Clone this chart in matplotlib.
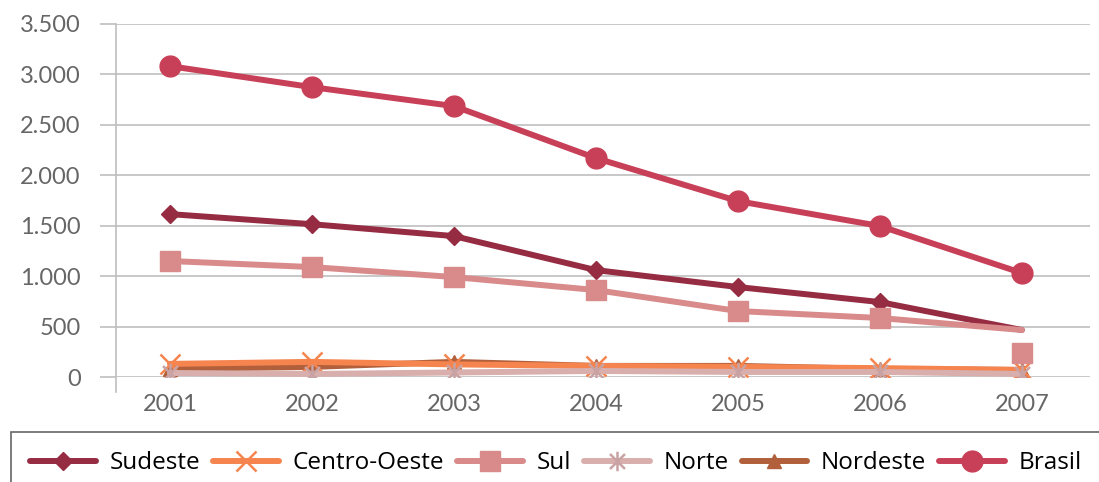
import matplotlib
matplotlib.use("Agg")
import matplotlib.pyplot as plt
from matplotlib.path import Path
from matplotlib.ticker import FuncFormatter

anos = ["2001", "2002", "2003", "2004", "2005", "2006", "2007"]

sudeste = [1615, 1515, 1397, 1060, 892, 743, 466]
centro_oeste = [130, 150, 125, 110, 100, 88, 70]
sul_linha = [1150, 1090, 991, 862, 654, 585, 466]
sul_2007 = 238  # marcador de 2007 fica solto, abaixo do fim da linha
norte = [40, 30, 45, 60, 50, 50, 30]
nordeste = [80, 100, 150, 110, 110, 80, 70]
brasil = [3082, 2874, 2686, 2170, 1744, 1497, 1031]

cores = {
    "Sudeste": "#952C42",
    "Centro-Oeste": "#F5844F",
    "Sul": "#D98A8A",
    "Norte": "#D8AFAC",
    "Nordeste": "#B1603B",
    "Brasil": "#C84058",
}

# marcador "estrela" do Excel: um x com uma barra vertical
estrela = Path(
    [(-1, -1), (1, 1), (-1, 1), (1, -1), (0, -1.3), (0, 1.3)],
    [Path.MOVETO, Path.LINETO, Path.MOVETO, Path.LINETO, Path.MOVETO, Path.LINETO],
)

fig = plt.figure(figsize=(10.99, 4.82), dpi=100)
ax = fig.add_axes([116 / 1099, 1 - 377 / 482, (1090 - 116) / 1099, (377 - 24) / 482])

x = list(range(len(anos)))
lw = 4.3
kw = dict(linewidth=lw, solid_capstyle="round", solid_joinstyle="round")

ax.plot(x, sudeste, color=cores["Sudeste"], marker="D", markersize=9,
        markevery=list(range(6)), label="Sudeste", zorder=5, **kw)
ax.plot(x, centro_oeste, color=cores["Centro-Oeste"], marker="x", markersize=14,
        markeredgewidth=1.8, label="Centro-Oeste", zorder=3, **kw)
ax.plot(x, sul_linha, color=cores["Sul"], marker="s", markersize=14,
        markevery=list(range(6)), label="Sul", zorder=5, **kw)
ax.plot(x[-1:], [sul_2007], color=cores["Sul"], marker="s", markersize=14,
        linestyle="none", zorder=3)
ax.plot(x, norte, color=cores["Norte"], marker=estrela, markersize=14,
        markeredgewidth=1.8, markeredgecolor="#C9A3A3", label="Norte", zorder=4, **kw)
ax.plot(x, nordeste, color=cores["Nordeste"], marker="^", markersize=10,
        label="Nordeste", zorder=2.5, **kw)
ax.plot(x, brasil, color=cores["Brasil"], marker="o", markersize=15,
        label="Brasil", zorder=6, **kw)

ax.set_xlim(-0.38, 6.48)
ax.set_ylim(0, 3500)
ax.set_yticks(range(0, 3501, 500))
ax.yaxis.set_major_formatter(FuncFormatter(lambda v, p: f"{int(v):,}".replace(",", ".")))
ax.set_xticks(x)
ax.set_xticklabels(anos)

ax.grid(axis="y", color="#BFBFBF", linewidth=1.2)
ax.set_axisbelow(True)
for s in ["top", "right", "bottom"]:
    ax.spines[s].set_visible(False)
ax.spines["left"].set_color("#BFBFBF")
ax.spines["left"].set_linewidth(1.2)
ax.spines["left"].set_bounds(-150, 3500)

ax.tick_params(axis="y", length=11.5, width=1.2, color="#BFBFBF", pad=14,
               labelsize=17, labelcolor="#666666")
ax.tick_params(axis="x", length=0, pad=12, labelsize=17, labelcolor="#666666")
for t in ax.get_xticklabels() + ax.get_yticklabels():
    t.set_fontfamily("Lato")

leg = fig.legend(loc="upper left", bbox_to_anchor=(11 / 1099, 1 - 432 / 482),
                 ncol=6, frameon=True, fancybox=False, borderaxespad=0,
                 handlelength=2.7, handletextpad=0.55,
                 columnspacing=0.55, borderpad=0.8,
                 prop={"family": "Open Sans", "size": 17.5})
leg.get_frame().set_edgecolor("#404040")
leg.get_frame().set_linewidth(1.2)

fig.savefig("out.png", dpi=100)
